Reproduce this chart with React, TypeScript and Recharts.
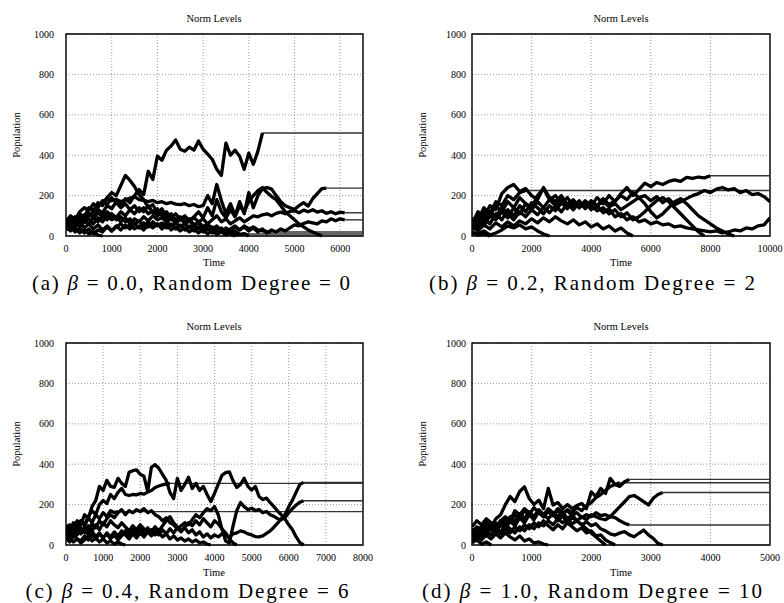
import { LineChart, Line, XAxis, YAxis, CartesianGrid, ReferenceArea } from "recharts";

const SERIF = '"Liberation Serif", "DejaVu Serif", serif';

const Y_TICKS = [0, 200, 400, 600, 800, 1000];

// (a) beta = 0.0, one sample every 100 steps
const A_STEP = 100;
const A_X_TICKS = [0, 1000, 2000, 3000, 4000, 5000, 6000];
const A1 = [55,75,60,90,80,110,95,130,115,150,135,170,150,185,165,200,230,205,320,280,395,375,425,445,475,430,420,440,425,470,430,405,380,330,300,460,400,425,395,330,410,355,420,510];
const A2 = [70,45,85,110,95,140,125,165,150,190,215,200,250,300,275,245,205,180,140,155,115,135,95,110,80,95,70,85,55,70,45,60,35,50,25,35,15,25,8,12,0];
const A3 = [40,60,45,75,65,100,120,150,170,185,175,182,170,178,188,195,180,176,170,176,165,170,160,166,158,155,160,150,156,145,150,200,160,255,175,110,160,100,170,110,215,140,200,235,240,232,200,170,150,140,132,150,165,148,185,210,235,237];
const A4 = [80,60,95,70,105,85,60,90,70,100,80,95,70,90,60,85,70,95,75,100,80,90,70,85,65,80,95,75,90,70,85,60,80,100,70,85,60,75,90,70,85,100,95,105,110,100,112,118,110,122,125,115,128,120,130,118,125,112,120,110,118,115];
const A5 = [60,85,55,70,40,60,35,55,30,50,25,45,60,40,55,35,50,30,55,40,60,45,70,50,65,45,60,40,55,35,50,30,45,25,40,20,35,50,30,45,25,40,20,35,15,30,20,35,25,40,55,50,62,70,65,60,75,70,85,75,85,80];
const A6 = [50,30,65,45,80,60,90,70,100,80,110,90,120,100,130,110,140,120,150,115,135,100,120,90,110,85,100,75,95,120,90,140,100,180,120,90,130,95,150,120,170,200,225,240,215,195,180,150,120,100,80,60,45,30,20,10,0];
const A7 = [30,50,20,40,15,35,10,30,20,45,25,50,30,55,35,60,40,65,45,70,50,65,40,60,35,55,30,50,25,45,20,40,15,35,20,40,25,45,30,50,35,45,30,25,22,20];
const A8 = [45,25,40,15,30,10,20,5,0];
const A9 = [65,90,70,100,85,110,90,115,95,120,100,80,95,70,85,60,75,50,70,45,60,35,55,30,45,25,40,20,35,15,30,10,25,8,20,5,15,5,10];
const A10 = [75,100,80,120,140,125,160,140,175,155,190,165,140,160,130,150,120,140,110,125,100,115,85,100,75,90,60,75,50,65,40,55,30,45,20,30,10,0];

// (b) beta = 0.2, one sample every 200 steps
const B_STEP = 200;
const B_X_TICKS = [0, 2000, 4000, 6000, 8000, 10000];
const B1 = [60,120,90,150,130,210,240,255,220,235,200,180,240,190,170,200,150,180,140,170,150,190,160,200,170,210,240,200,230,262,245,265,255,270,278,270,290,285,292,288,298];
const B2 = [40,80,140,110,170,150,200,180,215,225];
const B3 = [90,60,120,100,150,120,170,140,190,160,140,200,235,180,200,160,190,150,175,135,170,150,185,155,175,200,180,215,190,200,175,195,165,185,155,170,185,200,210,225,215,232,240,228,235,215,225,205,210,195,170];
const B4 = [30,70,50,100,80,120,90,140,110,160,130,170,140,180,150,185,160,175,145,165,130,150,115,135,95,110,80,95,70,80,60,70,55,60,45,50,40,35,30,25,20,25,15,20,30,25,40,35,50,55,90];
const B5 = [70,40,90,60,110,80,130,100,150,120,165,140,110,150,125,165,135,170,140,175,150,125,140,110,130,95,115,80,95,120,150,175,190,170,140,110,80,50,20,0];
const B6 = [50,100,70,120,95,140,110,80,120,95,130,105,140,115,150,120,160,130,165,140,175,150,170,145,160,130,150,170,190,160,120,90,110,140,170,185,160,130,100,80,60,40,25,10,0];
const B7 = [20,10,25,5,15,30,50,40,55,35,45,25,10,0];
const B8 = [45,25,55,35,65,45,70,50,75,60,85,65,90,70,95,75,60,80,55,70,45,60,35,50,25,40,15,0];
const B9 = [15,5,10,0];

// (c) beta = 0.4, one sample every 100 steps
const C_STEP = 100;
const C_X_TICKS = [0, 1000, 2000, 3000, 4000, 5000, 6000, 7000, 8000];
const C1 = [70,100,80,120,100,150,130,190,220,290,270,320,290,285,330,305,290,360,368,372,350,340,265,385,398,380,350,320,260,230,330,270,300,335,280,305,270,290,250,215,255,300,345,358,362,318,285,300,330,290,272,290,240,225,232,210,190,168,150,128,100,75,40,12,0];
const C2 = [50,80,60,95,120,100,140,170,150,200,220,205,250,230,260,280,250,245,250,248,255,252,262,270,285,292,298,303,305];
const C3 = [90,60,100,80,120,95,135,110,150,130,160,140,170,160,165];
const C4 = [30,60,40,75,55,90,70,105,85,120,100,130,150,135,160,175,150,170,160,175,165,180,160,170,150,140,120,135,110,100,80,95,110,100,125,150,135,160,180,170,190,150,80,20,10,95,170,210,190,175,182,170,176,160,166,150,142,130,126,136,160,180,198,212,219];
const C5 = [100,70,110,85,60,80,50,70,40,60,35,55,30,50,25,45,70,50,75,55,80,60,85,65,90,70,95,120,140,110,90,70,85,60,75,50,65,40,55,35,50,40,55,45,40,55,60,70,65,55,50,42,40,45,58,70,88,108,130,150,190,222,262,300,310];
const C6 = [60,35,70,50,85,60,95,70,100,75,110,90,120,100,85,110,90,70,95,75,100,80,60,75,50,65,40,55,30,45,25,35,20,30,15,25,10,15,5,0];
const C7 = [20,40,15,30,10,25,40,20,35,15,30,10,20,5,15,5,0];
const C8 = [40,15,50,30,20,45,25,50,30,55,35,60,40,65,45,70,50,30,55,35,60,40,65,45,70,50,75,55,80,60,85,65,90,110,95,120,100,130,110,90,120,105,80,60,30,10,0];

// (d) beta = 1.0, one sample every 80 steps
const D_STEP = 80;
const D_X_TICKS = [0, 1000, 2000, 3000, 4000, 5000];
const D1 = [60,90,70,110,90,130,150,200,240,215,265,288,230,200,222,180,280,198,210,180,200,181,195,206,180,263,240,280,255,330,300,290,313,325];
const D2 = [40,70,55,90,75,110,95,130,110,150,130,170,150,185,160,140,165,145,170,150,175,160,185,170,195,210,235,250,270,290,300,308];
const D3 = [80,55,95,70,110,85,120,100,140,115,155,130,165,140,175,150,130,155,120,145,110,135,120,140,125,150,140,130,125,140,165,190,214,239,245,231,215,198,231,250,260];
const D4 = [50,30,70,45,90,65,100,80,120,95,135,110,150,125,165,140,175,150,180,160,170,145,160,135,150,140,160,145,150,140,135,120,108,99];
const D5 = [30,55,40,70,50,85,65,100,80,60,90,70,100,80,110,95,120,100,130,110,125,105,120,100,115,95,105,80,70,55,49,60,66,50,41,58,74,50,33,8,0];
const D6 = [70,45,80,60,95,75,55,80,60,90,70,100,80,110,90,120,95,75,100,80,110,90,70,85,60,70,45,50,25,12,0];
const D7 = [20,45,25,50,30,55,35,60,40,25,45,20,30,10,15,5,0];
const D8 = [90,120,100,130,110,90,120,140,120,170,150,180,160,140,170,150,180,160,140,165,130,150,120,100,80,60,40,20,0];
const D9 = [10,25,5,15,0];

const CAPTIONS = [
  ["(a) ", "β", " = 0.0, Random Degree = 0"],
  ["(b) ", "β", " = 0.2, Random Degree = 2"],
  ["(c) ", "β", " = 0.4, Random Degree = 6"],
  ["(d) ", "β", " = 1.0, Random Degree = 10"],
];

interface PanelDef {
  left: number;
  top: number;
  height: number;
  margin: { top: number; right: number; bottom: number; left: number };
  xMax: number;
  xTicks: number[];
  step: number;
  series: number[][];
  yGap: number;
}

const PANELS: PanelDef[] = [
  { left: 0, top: 0, height: 300, margin: { top: 34, right: 29, bottom: 44, left: 26 }, xMax: 6500, xTicks: A_X_TICKS, step: A_STEP, series: [A1, A2, A3, A4, A5, A6, A7, A8, A9, A10], yGap: 12 },
  { left: 392, top: 0, height: 300, margin: { top: 34, right: 14, bottom: 44, left: 40 }, xMax: 10000, xTicks: B_X_TICKS, step: B_STEP, series: [B1, B2, B3, B4, B5, B6, B7, B8, B9], yGap: 6 },
  { left: 0, top: 300, height: 303, margin: { top: 43, right: 29, bottom: 38, left: 26 }, xMax: 8000, xTicks: C_X_TICKS, step: C_STEP, series: [C1, C2, C3, C4, C5, C6, C7, C8], yGap: 12 },
  { left: 392, top: 300, height: 303, margin: { top: 43, right: 14, bottom: 38, left: 40 }, xMax: 5000, xTicks: D_X_TICKS, step: D_STEP, series: [D1, D2, D3, D4, D5, D6, D7, D8, D9], yGap: 6 },
];

// text placement: plot centre x, title / Time / caption baselines, Population baseline x
const LABELS = [
  { cx: 214, title: 22, time: 266, popX: 20, popY: 135, capX: 191, capY: 290, capW: 318 },
  { cx: 621, title: 22, time: 266, popX: 426, popY: 135, capX: 592, capY: 290, capW: 326 },
  { cx: 214, title: 330, time: 576, popX: 20, popY: 444, capX: 187, capY: 598, capW: 323 },
  { cx: 621, title: 330, time: 576, popX: 426, popY: 444, capX: 592, capY: 598, capW: 340 },
];

function toPoints(vals: number[], step: number) {
  return vals.map((v, i) => ({ t: i * step, v }));
}

function Panel({ p }: { p: PanelDef }) {
  const tick = { fontSize: 10, fill: "#000", fontFamily: SERIF };
  return (
    <div style={{ position: "absolute", left: p.left, top: p.top }}>
      <LineChart width={392} height={p.height} margin={p.margin}>
        <CartesianGrid stroke="#808080" strokeDasharray="1 2" strokeWidth={0.8} />
        <XAxis
          dataKey="t"
          type="number"
          domain={[0, p.xMax]}
          ticks={p.xTicks}
          allowDataOverflow
          axisLine={false}
          tickSize={0}
          tickMargin={9}
          height={20}
          tick={tick}
          interval={0}
        />
        <YAxis
          type="number"
          domain={[0, 1000]}
          ticks={Y_TICKS}
          axisLine={false}
          tickSize={0}
          tickMargin={p.yGap}
          width={40}
          tick={tick}
          interval={0}
        />
        <ReferenceArea x1={0} x2={p.xMax} y1={0} y2={1000} fill="none" stroke="#000" strokeWidth={1.4} />
        {p.series.map((vals, i) => (
          <Line
            key={`tail${i}`}
            data={[
              { t: (vals.length - 1) * p.step, v: vals[vals.length - 1] },
              { t: p.xMax, v: vals[vals.length - 1] },
            ]}
            dataKey="v"
            stroke="#333"
            strokeWidth={1.4}
            dot={false}
            isAnimationActive={false}
          />
        ))}
        {p.series.map((vals, i) => (
          <Line
            key={`run${i}`}
            data={toPoints(vals, p.step)}
            dataKey="v"
            type="linear"
            stroke="#000"
            strokeWidth={3.3}
            strokeLinejoin="round"
            dot={false}
            isAnimationActive={false}
          />
        ))}
      </LineChart>
    </div>
  );
}

export default function App() {
  return (
    <div style={{ position: "absolute", left: 0, top: 0, width: 784, height: 603, background: "#fff" }}>
      {PANELS.map((p, i) => (
        <Panel key={i} p={p} />
      ))}
      <svg width={784} height={603} style={{ position: "absolute", left: 0, top: 0, pointerEvents: "none" }}>
        {LABELS.map((l, i) => (
          <g key={i} fontFamily={SERIF} fill="#000">
            <text x={l.cx} y={l.title} textAnchor="middle" fontSize={10.5}>Norm Levels</text>
            <text x={l.cx} y={l.time} textAnchor="middle" fontSize={10.5}>Time</text>
            <text x={l.popX} y={l.popY} textAnchor="middle" fontSize={10.5} transform={`rotate(-90 ${l.popX} ${l.popY})`}>Population</text>
            <text x={l.capX} y={l.capY} textAnchor="middle" fontSize={21} textLength={l.capW} lengthAdjust="spacing">
              {CAPTIONS[i][0]}
              <tspan fontStyle="italic">{CAPTIONS[i][1]}</tspan>
              {CAPTIONS[i][2]}
            </text>
          </g>
        ))}
      </svg>
    </div>
  );
}
